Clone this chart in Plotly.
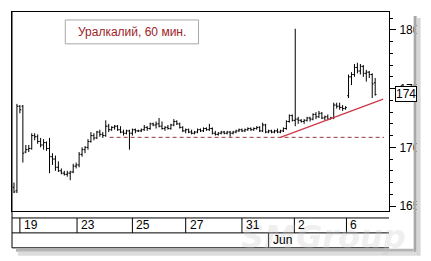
import plotly.graph_objects as go

# ---- data (60-minute bars, index = bar number) ----
opens = [166.6,166.3,173.5,173.5,169.6,169.8,169.9,171.0,170.9,170.5,170.2,170.4,169.9,169.2,169.0,168.3,168.0,167.8,167.7,167.8,
         167.9,168.4,168.5,169.4,169.8,170.0,170.5,171.0,170.8,171.3,171.1,171.0,171.8,171.5,171.7,171.8,171.5,171.3,171.2,171.4,
         171.2,171.5,171.4,171.4,171.5,171.7,171.6,172.0,171.9,172.0,171.8,171.6,171.7,171.6,171.9,172.2,172.0,171.7,171.4,171.5,
         171.3,171.2,171.3,171.5,171.4,171.6,171.5,171.6,171.2,171.1,171.2,171.3,171.2,171.3,171.2,171.3,171.4,171.5,171.4,171.5,
         171.6,171.5,171.6,171.7,171.4,171.9,171.3,171.4,171.3,171.4,171.3,171.4,171.6,172.2,172.7,172.3,172.4,172.3,172.2,172.3,
         172.5,172.4,172.8,172.6,172.9,172.5,172.6,172.4,172.5,173.6,173.5,173.4,173.3,174.4,176.0,176.2,176.8,176.5,176.9,176.3,
         176.4,176.2,175.5]
highs = [167.0,173.7,173.6,173.6,170.2,170.2,171.2,171.2,171.1,170.8,170.7,170.5,170.8,169.5,169.3,168.8,168.2,168.0,168.0,168.0,
         168.6,168.7,169.6,170.0,170.1,170.7,171.3,171.2,171.4,171.5,171.3,172.3,172.0,171.8,171.9,171.9,171.8,171.5,171.5,171.5,
         171.6,171.6,171.5,171.6,171.9,171.8,172.1,172.1,172.2,172.5,172.2,171.8,171.9,172.0,172.4,172.3,172.1,171.8,171.6,171.6,
         171.5,171.4,171.6,171.6,171.7,171.7,172.0,171.7,171.4,171.3,171.4,171.4,171.4,171.4,171.4,171.5,171.6,171.6,171.6,171.7,
         171.7,171.7,171.8,171.8,172.1,172.0,171.5,171.5,171.5,171.6,171.5,171.7,172.3,172.8,172.8,180.1,172.6,172.4,172.4,172.6,
         172.6,172.9,173.0,173.1,173.0,172.7,172.8,172.6,173.8,173.8,173.8,173.6,173.5,176.2,176.4,177.1,177.2,177.1,177.0,176.6,
         176.5,176.3,175.9]
lows = [166.1,166.1,172.9,168.7,169.5,169.6,169.8,170.6,170.3,170.0,169.8,169.7,167.8,168.5,168.0,167.9,167.7,167.6,167.5,167.2,
        167.8,168.2,168.3,169.2,169.5,169.8,170.4,170.6,170.7,170.9,170.8,170.9,171.3,171.4,171.5,171.4,171.2,171.0,171.1,169.8,
        171.0,171.2,171.3,171.3,171.4,171.4,171.5,171.8,171.6,171.7,171.5,171.4,171.5,171.5,171.8,171.9,171.6,171.3,171.2,171.2,
        171.1,171.1,171.2,171.3,171.3,171.4,171.4,171.1,171.0,171.0,171.1,171.1,171.1,170.9,171.1,171.2,171.3,171.3,171.3,171.4,
        171.4,171.4,171.5,171.3,171.3,171.2,171.2,171.2,171.2,171.2,171.2,171.3,171.5,172.1,172.2,171.8,172.0,172.1,172.0,172.2,
        172.2,172.3,172.4,172.5,172.4,172.3,172.3,172.4,172.4,173.3,173.2,173.1,173.2,174.2,175.3,176.0,176.3,176.2,176.0,175.6,
        175.9,174.2,174.4]
closes = [166.2,173.5,173.2,169.5,169.8,169.9,171.0,170.9,170.5,170.2,170.4,169.9,169.2,169.0,168.3,168.0,167.8,167.7,167.8,167.9,
          168.4,168.5,169.4,169.8,170.0,170.5,171.0,170.8,171.3,171.1,171.0,171.8,171.5,171.7,171.8,171.5,171.3,171.2,171.4,171.2,
          171.5,171.4,171.4,171.5,171.7,171.6,172.0,171.9,172.0,171.8,171.6,171.7,171.6,171.9,172.2,172.0,171.7,171.4,171.5,171.3,
          171.2,171.3,171.5,171.4,171.6,171.5,171.6,171.2,171.1,171.2,171.3,171.2,171.3,171.2,171.3,171.4,171.5,171.4,171.5,171.6,
          171.5,171.6,171.7,171.4,171.9,171.3,171.4,171.3,171.4,171.3,171.4,171.6,172.2,172.7,172.3,172.4,172.3,172.2,172.3,172.5,
          172.4,172.8,172.6,172.9,172.5,172.6,172.4,172.5,173.6,173.5,173.4,173.3,173.4,176.0,176.2,176.8,176.5,176.9,176.3,176.4,
          176.2,175.4,174.5]
bar_index = list(range(len(closes)))

date_labels = ["19", "23", "25", "27", "31", "2", "6"]
date_pos = [2, 21.3, 40, 58, 77, 94.7, 112.3]
month_label = "Jun"
month_pos = 86

support_level = 170.85
support_x = [32.3, 125.0]
trend_x = [90.0, 124.7]
trend_y = [170.85, 174.1]
last_label = "174"
title_text = "Уралкалий, 60 мин."
watermark = "SMGroup"

# ---- geometry helpers (pixels -> paper) ----
L, R, T, B = 11, 393, 11, 211
def px(p):
    return (p - L) / (R - L)
def py(p):
    return (B - p) / (B - T)

fig = go.Figure()
fig.add_trace(go.Ohlc(x=bar_index, open=opens, high=highs, low=lows, close=closes,
                      increasing=dict(line=dict(color="black", width=1)),
                      decreasing=dict(line=dict(color="black", width=1)),
                      tickwidth=0.45, hoverinfo="skip", showlegend=False))
fig.add_trace(go.Scatter(x=support_x, y=[support_level, support_level], mode="lines",
                         line=dict(color="#9a3a40", width=1, dash="4px,3px"),
                         hoverinfo="skip", showlegend=False))
fig.add_trace(go.Scatter(x=trend_x, y=trend_y, mode="lines",
                         line=dict(color="#cc3a4a", width=1.3),
                         hoverinfo="skip", showlegend=False))

font = dict(family="Liberation Sans, Arial, sans-serif", size=12, color="black")
shapes = []
annotations = []

# watermark (faint)
annotations.append(dict(text="<i><b>" + watermark + "</b></i>", xref="paper", yref="paper",
                        x=px(412), y=py(258), xanchor="right", yanchor="bottom", showarrow=False,
                        font=dict(family="DejaVu Sans, sans-serif", size=32, color="rgba(200,200,200,0.3)")))

# frame left and bottom
shapes.append(dict(type="line", xref="paper", yref="paper", x0=px(11), x1=px(11), y0=py(11), y1=py(248),
                   line=dict(color="black", width=1)))
shapes.append(dict(type="line", xref="paper", yref="paper", x0=px(11), x1=px(393), y0=py(248), y1=py(248),
                   line=dict(color="black", width=1)))
# date rows
for yy in (218, 233):
    shapes.append(dict(type="line", xref="paper", yref="paper", x0=px(11), x1=px(393), y0=py(yy), y1=py(yy),
                       line=dict(color="black", width=1)))
for xv, lab in zip(date_pos, date_labels):
    shapes.append(dict(type="line", xref="x", yref="paper", x0=xv, x1=xv, y0=py(218), y1=py(233),
                       line=dict(color="black", width=1)))
    annotations.append(dict(text=lab, xref="x", yref="paper", x=xv, y=py(225.5), xanchor="left",
                            yanchor="middle", xshift=2, showarrow=False, font=font))
shapes.append(dict(type="line", xref="x", yref="paper", x0=month_pos, x1=month_pos, y0=py(233), y1=py(248),
                   line=dict(color="black", width=1)))
annotations.append(dict(text=month_label, xref="x", yref="paper", x=month_pos, y=py(240.5), xanchor="left",
                        yanchor="middle", xshift=2, showarrow=False, font=font))

# title box
shapes.append(dict(type="rect", xref="paper", yref="paper", x0=px(65), x1=px(200), y0=py(19), y1=py(43),
                   line=dict(color="#a8a8a8", width=1), fillcolor="white"))
annotations.append(dict(text=title_text, xref="paper", yref="paper", x=px(132.5), y=py(31),
                        xanchor="center", yanchor="middle", showarrow=False,
                        font=dict(family="Liberation Sans, Arial, sans-serif", size=12, color="#9e2228")))

# shadow
shapes.append(dict(type="rect", xref="paper", yref="paper", x0=px(418), x1=px(421), y0=py(15), y1=py(255),
                   line=dict(width=0), fillcolor="#a8a8a8", layer="above"))
shapes.append(dict(type="rect", xref="paper", yref="paper", x0=px(421), x1=px(425), y0=py(17), y1=py(256),
                   line=dict(width=0), fillcolor="#d6d6d6", layer="above"))
shapes.append(dict(type="rect", xref="paper", yref="paper", x0=px(15), x1=px(418), y0=py(249), y1=py(252),
                   line=dict(width=0), fillcolor="#b4b4b4", layer="above"))
shapes.append(dict(type="rect", xref="paper", yref="paper", x0=px(17), x1=px(421), y0=py(252), y1=py(256),
                   line=dict(width=0), fillcolor="#dcdcdc", layer="above"))

# last price label
annotations.append(dict(text=last_label, xref="paper", yref="y", x=px(399), y=closes[-1],
                        xanchor="left", yanchor="middle", showarrow=False, font=font,
                        bordercolor="black", borderwidth=1, borderpad=0, bgcolor="white"))

x_lo = (L - 13) / 3
x_hi = (R - 13) / 3
y_hi = 180 + (29 - T) / 11.8
y_lo = 180 - (B - 29) / 11.8

fig.update_layout(
    width=431, height=261,
    margin=dict(l=L, r=431 - R, t=T, b=261 - B),
    paper_bgcolor="white", plot_bgcolor="white",
    showlegend=False,
    shapes=shapes, annotations=annotations,
    xaxis=dict(range=[x_lo, x_hi], showgrid=False, zeroline=False, showticklabels=False,
               ticks="", showline=True, linecolor="black", linewidth=1, mirror=True,
               rangeslider=dict(visible=False), fixedrange=True),
    yaxis=dict(range=[y_lo, y_hi], side="right", showgrid=False, zeroline=False,
               tickvals=[165, 170, 175, 180], ticks="outside", ticklen=6, tickcolor="black",
               minor=dict(dtick=1, ticks="outside", ticklen=3, tickcolor="black"),
               showline=True, linecolor="black", linewidth=1, mirror=True,
               tickfont=font, ticklabelstandoff=1, fixedrange=True),
)

fig.write_html("out.html")
